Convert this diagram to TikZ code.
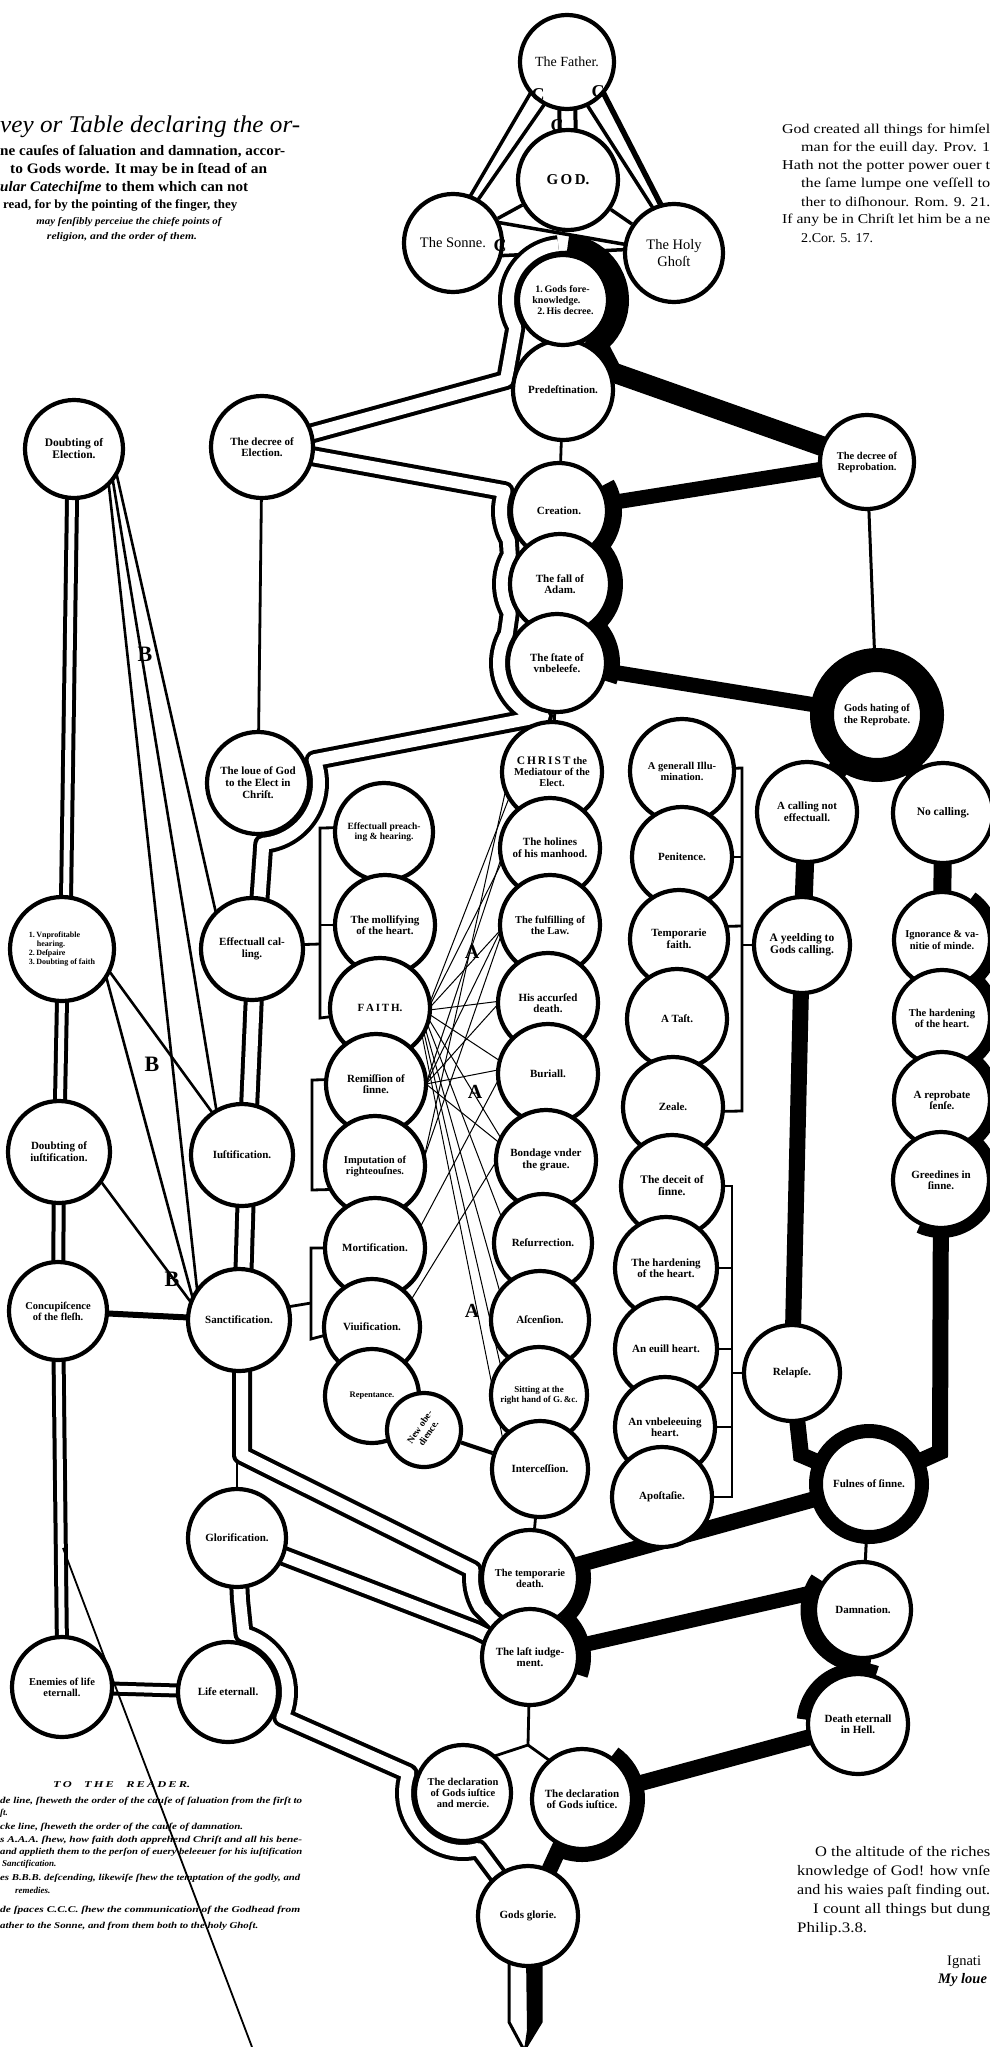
\documentclass[tikz,border=0pt]{standalone}
\usepackage{fontspec}
\setmainfont{Liberation Serif}
\usepackage{graphicx}
\usetikzlibrary{calc}
\pgfdeclarelayer{bg}
\pgfdeclarelayer{chanb}
\pgfdeclarelayer{chanw}
\pgfsetlayers{bg,chanb,chanw,main}
\newcommand{\fitw}[2]{\resizebox{#1pt}{\height}{#2}}
\newcommand{\fs}[2]{\fontsize{#1}{#2}\selectfont}
\begin{document}
\begin{tikzpicture}[x=1pt,y=-1pt,
  circ/.style={circle,draw,line width=4.2pt,fill=white,inner sep=0pt,align=center,font=\fs{11}{11.5}\bfseries},
  txt/.style={inner sep=0pt,anchor=west},
  thinln/.style={line width=1pt},
  conn/.style={line width=2.8pt},
  chb/.style={line width=20pt,line join=round},
  chw/.style={line width=12pt,white,line join=round},
  nchb/.style={line width=14pt,line join=round},
  nchw/.style={line width=6pt,white,line join=round},
  lab/.style={inner sep=0pt,font=\fs{22}{22}\bfseries},
  cmark/.style={inner sep=0pt,font=\fs{18}{18}\bfseries},
]
\useasboundingbox (0,0) rectangle (990,2047);

% ---------------- circles ----------------
\node[circ,minimum size=94,font=\fs{14}{15}] (Father) at (567,62) {The Father.};
\node[circ,minimum size=100,font=\fs{15}{15}\bfseries] (GOD) at (568,180) {G\,O\,D.};
\node[circ,minimum size=98,font=\fs{14.5}{15}] (Sonne) at (453,243) {The Sonne.};
\node[circ,minimum size=98,font=\fs{14.5}{17}] (HG) at (674,253) {The Holy\\Ghoſt};
\node[circ,minimum size=100] (Predest) at (563,390) {Predeſtination.};
\node[circ,minimum size=90,align=left,font=\fs{10}{11}\bfseries] (Foreknow) at (563,300) {\hspace*{3pt}1.\,Gods fore-\\knowledge.\\\hspace*{5pt}2.\,His decree.};
\node[circ,minimum size=102] (DecElect) at (262,447) {The decree of\\Election.};
\node[circ,minimum size=98,font=\fs{11.5}{12}\bfseries] (DoubtElect) at (74,449) {Doubting of\\Election.};
\node[circ,minimum size=94,font=\fs{10.5}{11}\bfseries] (DecReprob) at (867,462) {The decree of\\Reprobation.};
\node[circ,minimum size=96] (Creation) at (559,511) {Creation.};
\node[circ,minimum size=100] (FallAdam) at (560,584) {The fall of\\Adam.};
\node[circ,minimum size=98] (State) at (557,663) {The ſtate of\\vnbeleefe.};
\node[circ,minimum size=110,line width=24pt,font=\fs{10.5}{12}\bfseries] (GodsHating) at (877,715) {Gods hating of\\the Reprobate.};

\node[circ,minimum size=102,font=\fs{11}{12}\bfseries] (LoueGod) at (258,783) {The loue of God\\to the Elect in\\Chriſt.};
\node[circ,minimum size=102] (EffCalling) at (252,949) {Effectuall cal-\\ling.};
\node[circ,minimum size=104,align=left,font=\fs{8}{9}\bfseries] (Vnprofit) at (62,949) {1.\,Vnprofitable\\\hspace*{8pt}hearing.\\2.\,Deſpaire\\3.\,Doubting of faith};
\node[circ,minimum size=102] (Iustif) at (242,1155) {Iuſtification.};
\node[circ,minimum size=102,font=\fs{11}{12}\bfseries] (DoubtIust) at (59,1152) {Doubting of\\iuſtification.};
\node[circ,minimum size=98,font=\fs{10.5}{11}\bfseries] (Concup) at (58,1311) {Concupiſcence\\of the fleſh.};
\node[circ,minimum size=102] (Sanctif) at (239,1320) {Sanctification.};
\node[circ,minimum size=98] (Glorif) at (237,1538) {Glorification.};
\node[circ,minimum size=100,font=\fs{10.5}{11}\bfseries] (Enemies) at (62,1687) {Enemies of life\\eternall.};
\node[circ,minimum size=100] (LifeEt) at (228,1692) {Life eternall.};

\node[circ,minimum size=98,font=\fs{9.5}{10.5}\bfseries] (EffPreach) at (384,832) {Effectuall preach-\\ing \& hearing.};
\node[circ,minimum size=100] (Mollify) at (385,925) {The mollifying\\of the heart.};
\node[circ,minimum size=100,font=\fs{11}{12}\bfseries] (FAITH) at (380,1008) {F\,A\,I\,T\,H.};
\node[circ,minimum size=100] (Remission) at (376,1084) {Remiſſion of\\ſinne.};
\node[circ,minimum size=100,font=\fs{10.5}{11}\bfseries] (Imputation) at (375,1166) {Imputation of\\righteouſnes.};
\node[circ,minimum size=100] (Mortif) at (375,1248) {Mortification.};
\node[circ,minimum size=96] (Viuif) at (372,1327) {Viuification.};
\node[circ,minimum size=94,font=\fs{8.5}{9}\bfseries] (Repent) at (372,1396) {Repentance.};
\node[circ,minimum size=74,font=\fs{9.5}{10.5}\bfseries,rotate=56] (NewObed) at (424,1430) {New obe-\\dience.};

\node[circ,minimum size=100,font=\fs{10.5}{11}\bfseries] (Christ) at (552,772) {{\fs{11.5}{12}C\,H\,R\,I\,S\,T} the\\Mediatour of the\\Elect.};
\node[circ,minimum size=100] (Holines) at (550,848) {The holines\\of his manhood.};
\node[circ,minimum size=100,font=\fs{10.5}{11}\bfseries] (Fulfill) at (550,925) {The fulfilling of\\the Law.};
\node[circ,minimum size=100] (Accursed) at (548,1003) {His accurſed\\death.};
\node[circ,minimum size=100] (Buriall) at (548,1074) {Buriall.};
\node[circ,minimum size=100] (Bondage) at (546,1160) {Bondage vnder\\the graue.};
\node[circ,minimum size=98] (Resurr) at (543,1243) {Reſurrection.};
\node[circ,minimum size=98] (Ascension) at (540,1320) {Aſcenſion.};
\node[circ,minimum size=96,font=\fs{9}{10}\bfseries] (Sitting) at (539,1395) {Sitting at the\\right hand of G.\,\&c.};
\node[circ,minimum size=96] (Intercess) at (540,1469) {Interceſſion.};

\node[circ,minimum size=104,font=\fs{10.5}{11}\bfseries] (GenIllum) at (682,771) {A generall Illu-\\mination.};
\node[circ,minimum size=100] (Penitence) at (682,857) {Penitence.};
\node[circ,minimum size=98] (TempFaith) at (679,939) {Temporarie\\faith.};
\node[circ,minimum size=100] (Taste) at (677,1019) {A Taſt.};
\node[circ,minimum size=100] (Zeale) at (673,1107) {Zeale.};
\node[circ,minimum size=102,font=\fs{11.5}{12}\bfseries] (Deceit) at (672,1186) {The deceit of\\ſinne.};
\node[circ,minimum size=102] (HardenL) at (666,1268) {The hardening\\of the heart.};
\node[circ,minimum size=102] (EuillHeart) at (666,1349) {An euill heart.};
\node[circ,minimum size=100] (Vnbeleeu) at (665,1427) {An vnbeleeuing\\heart.};
\node[circ,minimum size=100] (Apostasie) at (662,1497) {Apoſtaſie.};

\node[circ,minimum size=100] (CallingNot) at (807,812) {A calling not\\effectuall.};
\node[circ,minimum size=100,font=\fs{11.5}{12}\bfseries] (NoCalling) at (943,813) {No calling.};
\node[circ,minimum size=96,font=\fs{11.5}{12}\bfseries] (Yeelding) at (802,945) {A yeelding to\\Gods calling.};
\node[circ,minimum size=96,font=\fs{10.5}{11.5}\bfseries] (Ignorance) at (942,940) {Ignorance \& va-\\nitie of minde.};
\node[circ,minimum size=96,font=\fs{10.5}{11}\bfseries] (HardenR) at (942,1018) {The hardening\\of the heart.};
\node[circ,minimum size=96] (ReprobSense) at (942,1100) {A reprobate\\ſenſe.};
\node[circ,minimum size=96] (Greedines) at (941,1180) {Greedines in\\ſinne.};
\node[circ,minimum size=96] (Relapse) at (792,1373) {Relapſe.};
\node[circ,minimum size=106,line width=14pt] (Fulnes) at (869,1484) {Fulnes of ſinne.};

\node[circ,minimum size=96,font=\fs{10.5}{11}\bfseries] (TempDeath) at (530,1578) {The temporarie\\death.};
\node[circ,minimum size=96] (LastIudg) at (530,1657) {The laſt iudge-\\ment.};
\node[circ,minimum size=96] (Damnation) at (863,1610) {Damnation.};
\node[circ,minimum size=100] (DeathEt) at (858,1724) {Death eternall\\in Hell.};
\node[circ,minimum size=96,font=\fs{10.5}{11}\bfseries] (DeclMercy) at (463,1793) {The declaration\\of Gods iuſtice\\and mercie.};
\node[circ,minimum size=100] (DeclIust) at (582,1799) {The declaration\\of Gods iuſtice.};
\node[circ,minimum size=100] (GodsGlorie) at (528,1916) {Gods glorie.};

% ---------------- labels ----------------
\node[cmark] (c1) at (538,95) {C};
\node[cmark] (c2) at (598,92) {C};
\node[cmark] (c3) at (557,126) {C};
\node[cmark] (c4) at (500,246) {C};
\node[lab] (b1) at (145,654) {B};
\node[lab] (b2) at (152,1064) {B};
\node[lab] (b3) at (172,1279) {B};
\node[lab,font=\fs{20}{20}\bfseries] (a1) at (472,952) {A};
\node[lab,font=\fs{20}{20}\bfseries] (a2) at (475,1092) {A};
\node[lab,font=\fs{20}{20}\bfseries] (a3) at (472,1311) {A};

% ---------------- texts ----------------
\node[txt] (tl1) at (0,127) {\fs{24}{24}\itshape\fitw{300}{vey or Table declaring the or-}};
\node[txt] (tl2) at (0,152) {\fs{14.5}{15}\bfseries\fitw{285}{ne cauſes of ſaluation and damnation, accor-}};
\node[txt] (tl3) at (10,170) {\fs{14.5}{15}\bfseries\fitw{257}{to Gods worde. It may be in ſtead of an}};
\node[txt] (tl4) at (0,188) {\fs{14.5}{15}\bfseries\fitw{248}{{\itshape ular Catechiſme} to them which can not}};
\node[txt] (tl5) at (3,205) {\fs{12.5}{13}\bfseries\fitw{234}{read, for by the pointing of the finger, they}};
\node[inner sep=0pt] (tl6) at (129,222) {\fs{10}{11}\bfseries\itshape\fitw{185}{may ſenſibly perceiue the chiefe points of}};
\node[inner sep=0pt] (tl7) at (122,237) {\fs{10}{11}\bfseries\itshape\fitw{150}{religion, and the order of them.}};

\node[txt] (tr1) at (782,130) {\fs{13.5}{14}\fitw{208}{God created all things for himſel}};
\node[txt] (tr2) at (801,148) {\fs{13.5}{14}\fitw{189}{man for the euill day. Prov. 1}};
\node[txt] (tr3) at (782,166) {\fs{13.5}{14}\fitw{208}{Hath not the potter power ouer t}};
\node[txt] (tr4) at (801,184) {\fs{13.5}{14}\fitw{189}{the ſame lumpe one veſſell to}};
\node[txt] (tr5) at (801,202) {\fs{13.5}{14}\fitw{189}{ther to diſhonour. Rom. 9. 21.}};
\node[txt] (tr6) at (782,220) {\fs{13.5}{14}\fitw{208}{If any be in Chriſt let him be a ne}};
\node[txt] (tr7) at (801,238) {\fs{13.5}{14}\fitw{72}{2.Cor. 5. 17.}};

\node[txt] (br1) at (815,1851) {\fs{14.5}{15}\fitw{175}{O the altitude of the riches}};
\node[txt] (br2) at (797,1872) {\fs{14.5}{15}\fitw{193}{knowledge of God! how vnſe}};
\node[txt] (br3) at (797,1891) {\fs{14.5}{15}\fitw{193}{and his waies paſt finding out.}};
\node[txt] (br4) at (813,1910) {\fs{14.5}{15}\fitw{177}{I count all things but dung}};
\node[txt] (br5) at (797,1929) {\fs{14.5}{15}\fitw{70}{Philip.3.8.}};
\node[txt] (br6) at (947,1962) {\fs{14.5}{15}Ignati};
\node[txt] (br7) at (938,1980) {\fs{14.5}{15}\bfseries\itshape My loue};

\begin{scope}[every node/.style={inner sep=0pt,anchor=west,font=\fs{9}{10}\bfseries\itshape}]
\node (rd0) at (53,1785) {\fitw{137}{T\,O\quad T\,H\,E\quad R\,E\,A\,D\,E\,R.}};
\node (rd1) at (0,1801) {\fitw{302}{de line, ſheweth the order of the cauſe of ſaluation from the firſt to}};
\node (rd2) at (0,1813) {ſt.};
\node (rd3) at (0,1827) {\fitw{243}{cke line, ſheweth the order of the cauſe of damnation.}};
\node (rd4) at (0,1840) {\fitw{302}{s A.A.A. ſhew, how faith doth apprehend Chriſt and all his bene-}};
\node (rd5) at (0,1852) {\fitw{302}{and applieth them to the perſon of euery beleeuer for his iuſtification}};
\node (rd6) at (2,1864) {Sanctification.};
\node (rd7) at (0,1878) {\fitw{300}{es B.B.B. deſcending, likewiſe ſhew the temptation of the godly, and}};
\node (rd8) at (15,1890) {remedies.};
\node (rd9) at (0,1910) {\fitw{300}{de ſpaces C.C.C. ſhew the communication of the Godhead from}};
\node (rd10) at (0,1926) {\fitw{258}{ather to the Sonne, and from them both to the holy Ghoſt.}};
\end{scope}

% long diagonal stroke
\coordinate (dA) at (63,1548);
\coordinate (dB) at (252,2047);
\draw[line width=1.8pt] (dA) -- (dB);

% ---------------- channel paths ----------------
\def\chA{(Father.center) -- (GOD.center)}
\def\chB{(Foreknow.center) ++(265:55) arc[start angle=265,end angle=150,radius=55] -- (506,380) -- (DecElect.center)}
\def\chC{(DecElect.center) -- ($(Creation.center)+(200:58)$) arc[start angle=200,end angle=150,radius=58] -- ($(FallAdam.center)+(210:58)$) arc[start angle=210,end angle=150,radius=58] -- ($(State.center)+(210:58)$) arc[start angle=210,end angle=118,radius=58] -- (543,716) -- ($(LoueGod.center)+(-22:61)$) arc[start angle=-22,end angle=85,radius=61] -- (256,948) -- (247,1155) -- (242,1320) -- (242,1455) -- ($(TempDeath.center)+(188:58)$) arc[start angle=188,end angle=150,radius=58] -- (LastIudg.center)}
\def\chD{(Glorif.center) -- (476,1630) -- (LastIudg.center)}
\def\chE{(Glorif.center) -- (240,1600) -- ($(LifeEt.center)+(-75:60)$) arc[start angle=-75,end angle=25,radius=60] -- ($(DeclMercy.center)+(200:58)$) arc[start angle=200,end angle=75,radius=58] -- (GodsGlorie.center)}
\def\chN{(DoubtElect.center) -- (72,500) -- (66,900) -- (Vnprofit.center) -- (62,1000) -- (DoubtIust.center) -- (Concup.center) -- (62,1650) -- (Enemies.center) -- (LifeEt.center)}

\begin{pgfonlayer}{chanb}
\draw[chb] \chA; \draw[chb] \chB; \draw[chb] \chC; \draw[chb] \chD; \draw[chb] \chE;
\draw[nchb] \chN;
\end{pgfonlayer}
\begin{pgfonlayer}{chanw}
\draw[chw] \chA; \draw[chw] \chB; \draw[chw] \chC; \draw[chw] \chD; \draw[chw] \chE;
\draw[nchw] \chN;
\end{pgfonlayer}

% ---------------- lines ----------------
\begin{pgfonlayer}{bg}
% Trinity
\draw[line width=3.5pt] ($(Father.center)+(140:47)$) -- ($(Sonne.center)+(290:49)$);
\draw[line width=3.5pt] ($(Father.center)+(118:47)$) -- ($(Sonne.center)+(300:49)$);
\draw[line width=5.5pt] ($(Father.center)+(40:47)$) -- ($(HG.center)+(255:49)$);
\draw[line width=3.5pt] ($(Father.center)+(65:47)$) -- ($(HG.center)+(245:49)$);
\draw[line width=3.5pt] (GOD) -- (Sonne);
\draw[line width=3.5pt] (GOD) -- (HG);
\draw[line width=3.5pt] ($(Sonne.center)+(335:49)$) -- ($(HG.center)+(190:49)$);
\draw[line width=3.5pt] ($(Sonne.center)+(15:49)$) -- ($(HG.center)+(184:49)$);

% heavy lines of damnation
\draw[line width=20pt] (Foreknow.center) ++(275:56) arc[start angle=275,end angle=412,radius=56] -- (612,372) -- (DecReprob.center);
\draw[line width=15pt] (DecReprob.center) -- (Creation.center);
\draw[line width=16pt] (Creation.center) ++(-30:55) arc[start angle=-30,end angle=41,radius=55] -- ($(FallAdam.center)+(-42:55)$) arc[start angle=-42,end angle=47,radius=55] -- ($(State.center)+(-45:55)$) arc[start angle=-45,end angle=20,radius=55];
\draw[line width=15pt] (State.center) -- (GodsHating.center);
\draw[line width=3pt] (DecReprob) -- (GodsHating);
\draw[line width=20pt] (GodsHating.center) -- (CallingNot.center);
\draw[line width=20pt] (GodsHating.center) -- (NoCalling.center);
\draw[line width=18pt] (CallingNot.center) -- (Yeelding.center);
\draw[line width=18pt] (NoCalling.center) -- (Ignorance.center);
\draw[line width=16pt] (Yeelding.center) -- (Relapse.center);
\draw[line width=16pt] (Relapse.center) -- (801,1455) -- (Fulnes.center);
\draw[line width=16pt] (Greedines.center) -- (940,1452) -- (Fulnes.center);
\foreach \n in {Ignorance,HardenR,ReprobSense}
  \draw[line width=10pt] (\n.center) ++(-55:53) arc[start angle=-55,end angle=55,radius=53];
\draw[line width=10pt] (Greedines.center) ++(-55:53) arc[start angle=-55,end angle=115,radius=53];
\draw[line width=16pt] (Fulnes.center) -- (TempDeath.center);
\draw[line width=3pt] (Fulnes) -- (Damnation);
\draw[line width=14pt] (TempDeath.center) ++(-20:54) arc[start angle=-20,end angle=45,radius=54] -- ($(LastIudg.center)+(-45:54)$) arc[start angle=-45,end angle=20,radius=54];
\draw[line width=15pt] (LastIudg.center) -- (815,1592);
\draw[line width=15pt] (Damnation.center) ++(215:55) arc[start angle=215,end angle=95,radius=55];
\draw[line width=20pt] (Damnation.center) -- (DeathEt.center);
\draw[line width=13pt] (DeathEt.center) ++(290:55) arc[start angle=290,end angle=185,radius=55];
\draw[line width=16pt] (DeathEt.center) -- (DeclIust.center);
\draw[line width=14pt] (DeclIust.center) ++(-55:56) arc[start angle=-55,end angle=115,radius=56];
\draw[line width=16pt] (DeclIust.center) -- (GodsGlorie.center);

% simple links
\draw[conn] (Predest) -- (Creation);
\draw[conn] (State) -- (Christ);
\draw[conn] (DecElect) -- (LoueGod);
\draw[conn] (Intercess) -- (TempDeath);
\coordinate (sg) at (237,1458);
\draw[conn] (sg) -- (Glorif);
\coordinate (split) at (528,1745);
\draw[conn] (LastIudg) -- (split) -- ($(DeclMercy.center)+(-50:48)$);
\draw[conn] (split) -- ($(DeclIust.center)+(230:50)$);
\draw[line width=4pt] (NewObed) -- (Intercess);

% temptations (B lines)
\draw[line width=2.6pt] ($(DoubtElect.center)+(30:49)$) -- ($(EffCalling.center)+(225:51)$);
\draw[line width=2.6pt] ($(DoubtElect.center)+(38:49)$) -- ($(Iustif.center)+(240:51)$);
\draw[line width=2.6pt] ($(DoubtElect.center)+(45:49)$) -- ($(Sanctif.center)+(215:51)$);
\draw[line width=2.6pt] ($(Vnprofit.center)+(25:52)$) -- ($(Iustif.center)+(235:51)$);
\draw[line width=2.6pt] ($(Vnprofit.center)+(32:52)$) -- ($(Sanctif.center)+(205:51)$);
\draw[line width=2.6pt] ($(DoubtIust.center)+(35:51)$) -- ($(Sanctif.center)+(200:51)$);
\draw[line width=6pt] (Concup) -- (Sanctif);

% brackets
\draw[conn] ($(EffCalling.center)+(-5:51)$) -- (320,944);
\draw[conn] ($(EffPreach.center)+(185:49)$) -- (320,828) -- (320,1018) -- ($(FAITH.center)+(170:50)$);
\draw[conn] (320,925) -- (Mollify.west);
\draw[conn] ($(Remission.center)+(185:50)$) -- (312,1080) -- (312,1190) -- ($(Imputation.center)+(152:50)$);
\draw[conn] ($(Sanctif.center)+(-15:51)$) -- (311,1303);
\draw[conn] ($(Mortif.center)+(180:50)$) -- (311,1248) -- (311,1339) -- ($(Viuif.center)+(170:48)$);
\draw[conn] ($(GenIllum.center)+(-3:52)$) -- (742,768) -- (742,1111) -- ($(Zeale.center)+(5:50)$);
\draw[conn] (742,857) -- (Penitence.east);
\draw[conn] (742,926) -- ($(TempFaith.center)+(-15:49)$);
\draw[conn] (742,945) -- (Yeelding.west);
\draw[conn] ($(Deceit.center)+(0:51)$) -- (732,1186) -- (732,1497) -- ($(Apostasie.center)+(0:50)$);
\draw[conn] (732,1268) -- (HardenL.east);
\draw[conn] (732,1349) -- (EuillHeart.east);
\draw[conn] (732,1427) -- (Vnbeleeu.east);
\draw[conn] (732,1373) -- (Relapse.west);

% faith apprehending Christ (A lines)
\foreach \t/\a/\s in {Christ/150/-8,Holines/165/-5,Fulfill/175/-2,Accursed/182/2,Buriall/195/8,Bondage/205/14,Resurr/212/20,Ascension/215/26,Sitting/218/30,Intercess/220/34}
  \draw[thinln] ($(FAITH.center)+(\s:51)$) -- ($(\t.center)+(\a:49)$);
\foreach \t/\a in {Holines/170,Fulfill/175,Accursed/180,Buriall/185,Bondage/200}
  \draw[thinln] ($(Remission.center)+(0:50)$) -- ($(\t.center)+(\a:49)$);
\foreach \t/\a in {Christ/160,Fulfill/170}
  \draw[thinln] ($(Imputation.center)+(-10:50)$) -- ($(\t.center)+(\a:49)$);
\draw[thinln] ($(Mortif.center)+(-25:50)$) -- ($(Buriall.center)+(175:49)$);
\draw[thinln] ($(Viuif.center)+(-35:48)$) -- ($(Bondage.center)+(180:49)$);

% pointer under Gods glorie
\draw[line width=3pt,fill=white] (509,1955) -- (509,2022) -- (524,2050) -- (541,2022) -- (541,1955);
\fill (526,1955) -- (541,1955) -- (541,2022) -- (524,2050) -- (527,2030) -- cycle;
\end{pgfonlayer}
\end{tikzpicture}
\end{document}
